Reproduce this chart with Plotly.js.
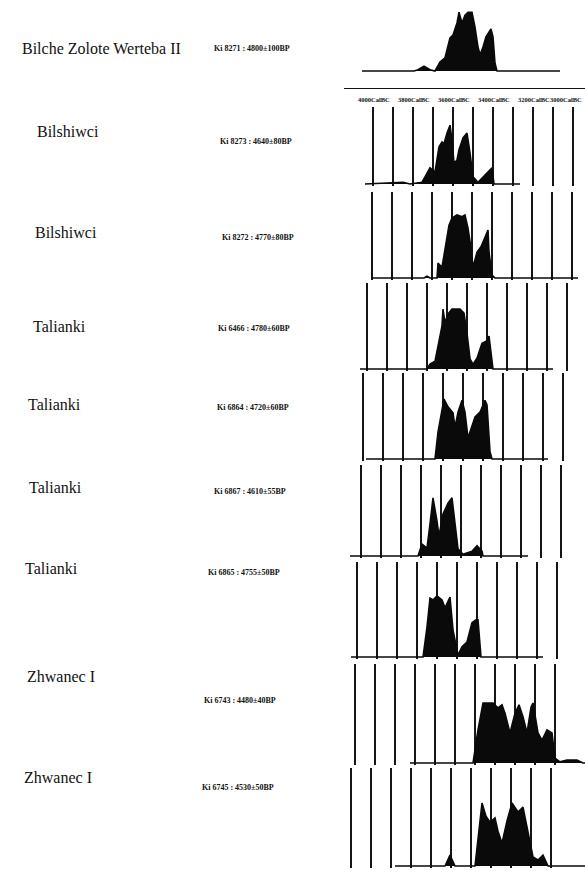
<!DOCTYPE html>
<html>
<head>
<meta charset="utf-8">
<script src="https://cdn.plot.ly/plotly-3.0.1.min.js"></script>
<style>html,body{margin:0;padding:0;background:#fff;}#chart{width:585px;height:872px;}</style>
</head>
<body>
<div id="chart"></div>
<script>
// ---------- DATA ----------
const sites = ['Bilche Zolote Werteba II', 'Bilshiwci', 'Bilshiwci', 'Talianki', 'Talianki', 'Talianki', 'Talianki', 'Zhwanec I', 'Zhwanec I'];
const labCodes = ['Ki 8271 : 4800±100BP', 'Ki 8273 : 4640±80BP', 'Ki 8272 : 4770±80BP', 'Ki 6466 : 4780±60BP', 'Ki 6864 : 4720±60BP', 'Ki 6867 : 4610±55BP', 'Ki 6865 : 4755±50BP', 'Ki 6743 : 4480±40BP', 'Ki 6745 : 4530±50BP'];
const axisYears = [4000, 3800, 3600, 3400, 3200, 3000];
const axisLabels = ['4000CalBC', '3800CalBC', '3600CalBC', '3400CalBC', '3200CalBC', '3000CalBC'];
const gridYears = [4000, 3900, 3800, 3700, 3600, 3500, 3400, 3300, 3200, 3100, 3000];

const years1 = [4060, 3800, 3780, 3750, 3720, 3695, 3670, 3645, 3620, 3605, 3585, 3575, 3560, 3545, 3530, 3510, 3495, 3480, 3470, 3455, 3440, 3415, 3405, 3395, 3385, 3070];
const prob1  = [0, 0, 0.02, 0.08, 0.02, 0, 0.15, 0.22, 0.55, 0.6, 0.8, 0.98, 0.8, 0.93, 0.98, 0.98, 0.73, 0.4, 0.27, 0.4, 0.57, 0.7, 0.57, 0.13, 0, 0];
const years2 = [4040, 3850, 3815, 3755, 3740, 3715, 3690, 3670, 3655, 3645, 3630, 3615, 3605, 3595, 3580, 3570, 3550, 3530, 3515, 3500, 3475, 3450, 3425, 3405, 3395, 3265];
const prob2  = [0, 0.03, 0, 0.03, 0.12, 0.27, 0.2, 0.62, 0.7, 0.67, 0.85, 0.98, 0.73, 0.35, 0.4, 0.57, 0.77, 0.85, 0.52, 0.12, 0.03, 0.12, 0.2, 0.27, 0, 0];
const years3 = [4000, 3740, 3725, 3710, 3675, 3670, 3650, 3630, 3615, 3600, 3575, 3550, 3535, 3520, 3505, 3495, 3475, 3455, 3435, 3420, 3415, 3400, 3385, 2970];
const prob3  = [0, 0, 0.03, 0, 0, 0.25, 0.18, 0.55, 0.88, 1.0, 1.05, 1.02, 1.05, 0.83, 0.5, 0.18, 0.43, 0.52, 0.68, 0.8, 0.43, 0.05, 0, 0];
const years4 = [4035, 3700, 3685, 3660, 3645, 3625, 3620, 3610, 3595, 3575, 3535, 3515, 3500, 3485, 3470, 3450, 3425, 3400, 3390, 3380, 3370, 3070];
const prob4  = [0, 0, 0.08, 0.13, 0.38, 0.72, 1.0, 0.77, 0.92, 1.0, 1.0, 0.93, 0.6, 0.17, 0.08, 0.18, 0.43, 0.47, 0.55, 0.27, 0, 0];
const years5 = [3985, 3640, 3625, 3605, 3595, 3575, 3550, 3540, 3525, 3505, 3490, 3475, 3455, 3440, 3415, 3390, 3380, 3365, 3355, 3075];
const prob5  = [0, 0, 0.45, 0.78, 1.0, 0.87, 0.77, 0.53, 0.78, 0.98, 0.78, 0.35, 0.57, 0.7, 0.78, 0.98, 0.9, 0.12, 0, 0];
const years6 = [4055, 3715, 3695, 3670, 3655, 3640, 3620, 3610, 3590, 3565, 3545, 3530, 3515, 3490, 3445, 3420, 3395, 3390, 3165];
const prob6  = [0, 0, 0.2, 0.13, 0.53, 0.97, 0.58, 0.33, 0.7, 0.88, 0.97, 0.53, 0.12, 0.03, 0.08, 0.17, 0.08, 0, 0];
const years7 = [4030, 3670, 3650, 3635, 3620, 3600, 3575, 3560, 3535, 3520, 3495, 3475, 3450, 3425, 3405, 3395, 3380, 3070];
const prob7  = [0, 0, 0.5, 0.98, 0.95, 1.02, 0.95, 0.82, 1.0, 0.45, 0.03, 0.17, 0.25, 0.57, 0.62, 0.62, 0, 0];
const years8 = [3725, 3410, 3385, 3360, 3310, 3285, 3265, 3250, 3225, 3200, 3180, 3160, 3140, 3120, 3110, 3085, 3065, 3040, 3015, 3000, 2975, 2940, 2890, 2860, 2850];
const prob8  = [0, 0, 0.55, 1.0, 1.0, 0.92, 0.97, 0.83, 0.5, 0.83, 0.97, 0.77, 0.5, 0.93, 1.0, 0.5, 0.38, 0.55, 0.5, 0.08, 0.02, 0.05, 0.05, 0, 0];
const years9 = [3780, 3530, 3505, 3480, 3380, 3365, 3345, 3325, 3305, 3280, 3265, 3245, 3220, 3195, 3165, 3140, 3115, 3090, 3065, 3040, 3015, 2830];
const prob9  = [0, 0, 0.18, 0, 0, 0.5, 1.05, 0.83, 0.73, 0.8, 0.58, 0.38, 0.75, 1.05, 0.9, 0.98, 0.58, 0.15, 0.1, 0.18, 0, 0];

const allYears = [years1, years2, years3, years4, years5, years6, years7, years8, years9];
const allProb = [prob1, prob2, prob3, prob4, prob5, prob6, prob7, prob8, prob9];

// ---------- LAYOUT (positions in page pixels) ----------
const W = 585, H = 872;
const baselinePx = [71, 184, 278, 369, 459, 556, 657, 763, 866];
const gridTopPx  = [0, 107, 192, 283, 373, 465, 562, 664, 768];
const x4000Px    = [374, 373, 372, 367, 363, 361, 357, 355, 351];
const nameX = [20, 35, 33, 31, 26, 27, 23, 25, 22];
const nameY = [48, 131, 233, 326, 404, 487, 568, 676, 777];
const codeX = [212, 218, 220, 216, 215, 212, 206, 202, 200];
const codeY = [48, 142, 237, 329, 407, 492, 572, 700, 787];
const axisLinePx = 88, axisLabelPx = 100;
const pxPerUnit = 60, pxPerYear = 0.2, pad = 0.03;

const traces = [];
const layout = {
  width: W, height: H,
  margin: {l: 0, r: 0, t: 0, b: 0},
  paper_bgcolor: '#ffffff', plot_bgcolor: 'rgba(0,0,0,0)',
  showlegend: false,
  annotations: []
};

for (let i = 0; i < 9; i++) {
  const n = i + 1;
  const xa = n === 1 ? 'x' : 'x' + n;
  const ya = n === 1 ? 'y' : 'y' + n;
  traces.push({
    type: 'scatter', mode: 'lines',
    x: allYears[i], y: allProb[i],
    xaxis: xa, yaxis: ya,
    fill: 'tozeroy', fillcolor: '#0a0a0a',
    line: {color: '#0a0a0a', width: 1.6},
    hoverinfo: 'skip'
  });
  const left = x4000Px[i] - 30;
  const xStart = 4000 + 30 / pxPerYear;
  const xEnd = xStart - (W - left) / pxPerYear;
  const xaxis = {
    domain: [left / W, 1],
    range: [xStart, xEnd],
    anchor: ya,
    showgrid: i > 0,
    gridcolor: '#151515', gridwidth: 1.3,
    zeroline: false, showline: false,
    tickmode: 'array', tickvals: gridYears,
    showticklabels: false, ticks: ''
  };
  if (i === 0) {
    Object.assign(xaxis, {
      anchor: 'free', position: 1 - axisLinePx / H,
      showline: true, linecolor: '#111', linewidth: 1.4
    });
  }
  const topUnits = (baselinePx[i] - gridTopPx[i]) / pxPerUnit;
  const yaxis = {
    domain: [1 - (baselinePx[i] + pad * pxPerUnit) / H, 1 - gridTopPx[i] / H],
    range: [-pad, topUnits],
    anchor: xa,
    showgrid: false, zeroline: false, showline: false,
    showticklabels: false, ticks: ''
  };
  layout[n === 1 ? 'xaxis' : 'xaxis' + n] = xaxis;
  layout[n === 1 ? 'yaxis' : 'yaxis' + n] = yaxis;

  layout.annotations.push({
    xref: 'paper', yref: 'paper', x: nameX[i] / W, y: 1 - nameY[i] / H,
    xanchor: 'left', yanchor: 'middle', showarrow: false,
    text: sites[i],
    font: {family: 'Liberation Serif', size: 16, color: '#111'}
  });
  layout.annotations.push({
    xref: 'paper', yref: 'paper', x: codeX[i] / W, y: 1 - codeY[i] / H,
    xanchor: 'left', yanchor: 'middle', showarrow: false,
    text: labCodes[i],
    font: {family: 'Liberation Serif', size: 8, color: '#111', weight: 'bold'}
  });
}

// top calendar-axis labels, placed through the first panel's x scale
axisYears.forEach((yr, k) => {
  const last = k === axisYears.length - 1;
  layout.annotations.push({
    xref: 'x', yref: 'paper', x: yr, y: 1 - axisLabelPx / H,
    xanchor: last ? 'right' : 'center', xshift: last ? 10 : 0,
    yanchor: 'middle', showarrow: false,
    text: axisLabels[k],
    font: {family: 'Liberation Serif', size: 6.5, color: '#111', weight: 'bold'}
  });
});

Plotly.newPlot('chart', traces, layout, {staticPlot: true, displayModeBar: false});
</script>
</body>
</html>
